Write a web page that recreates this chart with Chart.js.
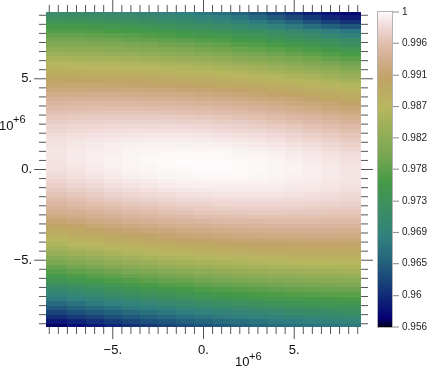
<!DOCTYPE html>
<html>
<head>
<meta charset="utf-8">
<script src="https://cdn.jsdelivr.net/npm/chart.js@4/dist/chart.umd.min.js"></script>
<style>
  html, body { margin: 0; padding: 0; background: #ffffff; }
  #wrap { width: 427px; height: 368px; }
</style>
</head>
<body>
<div id="wrap"><canvas id="c" width="427" height="368"></canvas></div>
<script>
// ---------- data (units of 10^6 on both axes) ----------
const xCenters = [-8, -7, -6, -5, -4, -3, -2, -1, 0, 1, 2, 3, 4, 5, 6, 7, 8];
const yCenters = [
  8.625, 8.375, 8.125, 7.875, 7.625, 7.375, 7.125, 6.875, 6.625, 6.375,
  6.125, 5.875, 5.625, 5.375, 5.125, 4.875, 4.625, 4.375, 4.125, 3.875,
  3.625, 3.375, 3.125, 2.875, 2.625, 2.375, 2.125, 1.875, 1.625, 1.375,
  1.125, 0.875, 0.625, 0.375, 0.125, -0.125, -0.375, -0.625, -0.875, -1.125,
  -1.375, -1.625, -1.875, -2.125, -2.375, -2.625, -2.875, -3.125, -3.375, -3.625,
  -3.875, -4.125, -4.375, -4.625, -4.875, -5.125, -5.375, -5.625, -5.875, -6.125,
  -6.375, -6.625, -6.875, -7.125, -7.375, -7.625, -7.875, -8.125, -8.375, -8.625
];
const zRows = [
  [0.9714, 0.9711, 0.9707, 0.9703, 0.9699, 0.9694, 0.9688, 0.9682, 0.9673, 0.9664, 0.9652, 0.9637, 0.9621, 0.9606, 0.9593, 0.9583, 0.9575],
  [0.9729, 0.9726, 0.9723, 0.9719, 0.9714, 0.9710, 0.9704, 0.9699, 0.9690, 0.9682, 0.9670, 0.9656, 0.9641, 0.9627, 0.9612, 0.9599, 0.9589],
  [0.9744, 0.9741, 0.9738, 0.9734, 0.9730, 0.9725, 0.9720, 0.9715, 0.9707, 0.9699, 0.9689, 0.9677, 0.9664, 0.9650, 0.9634, 0.9620, 0.9607],
  [0.9758, 0.9756, 0.9753, 0.9749, 0.9745, 0.9741, 0.9736, 0.9731, 0.9724, 0.9717, 0.9708, 0.9699, 0.9688, 0.9676, 0.9662, 0.9649, 0.9637],
  [0.9772, 0.9770, 0.9767, 0.9764, 0.9760, 0.9756, 0.9751, 0.9746, 0.9741, 0.9735, 0.9728, 0.9721, 0.9714, 0.9704, 0.9694, 0.9683, 0.9672],
  [0.9786, 0.9784, 0.9781, 0.9778, 0.9775, 0.9771, 0.9767, 0.9762, 0.9756, 0.9751, 0.9744, 0.9738, 0.9730, 0.9723, 0.9712, 0.9701, 0.9690],
  [0.9799, 0.9798, 0.9795, 0.9793, 0.9789, 0.9786, 0.9781, 0.9777, 0.9772, 0.9766, 0.9760, 0.9753, 0.9746, 0.9739, 0.9731, 0.9723, 0.9714],
  [0.9813, 0.9811, 0.9809, 0.9806, 0.9803, 0.9800, 0.9796, 0.9792, 0.9787, 0.9781, 0.9775, 0.9769, 0.9762, 0.9755, 0.9747, 0.9739, 0.9731],
  [0.9825, 0.9824, 0.9822, 0.9820, 0.9817, 0.9814, 0.9810, 0.9806, 0.9801, 0.9796, 0.9790, 0.9784, 0.9778, 0.9771, 0.9763, 0.9755, 0.9747],
  [0.9838, 0.9837, 0.9835, 0.9833, 0.9830, 0.9827, 0.9824, 0.9820, 0.9815, 0.9810, 0.9805, 0.9799, 0.9793, 0.9786, 0.9779, 0.9771, 0.9763],
  [0.9850, 0.9849, 0.9848, 0.9846, 0.9844, 0.9841, 0.9837, 0.9833, 0.9829, 0.9825, 0.9819, 0.9814, 0.9807, 0.9801, 0.9794, 0.9786, 0.9778],
  [0.9862, 0.9861, 0.9860, 0.9858, 0.9856, 0.9853, 0.9850, 0.9847, 0.9843, 0.9838, 0.9833, 0.9828, 0.9822, 0.9815, 0.9808, 0.9801, 0.9793],
  [0.9873, 0.9872, 0.9871, 0.9870, 0.9868, 0.9866, 0.9863, 0.9859, 0.9856, 0.9851, 0.9847, 0.9841, 0.9836, 0.9829, 0.9823, 0.9816, 0.9808],
  [0.9884, 0.9884, 0.9883, 0.9881, 0.9880, 0.9878, 0.9875, 0.9872, 0.9868, 0.9864, 0.9859, 0.9854, 0.9849, 0.9843, 0.9837, 0.9830, 0.9822],
  [0.9894, 0.9894, 0.9893, 0.9893, 0.9891, 0.9889, 0.9886, 0.9883, 0.9880, 0.9876, 0.9872, 0.9867, 0.9862, 0.9856, 0.9850, 0.9843, 0.9836],
  [0.9904, 0.9904, 0.9904, 0.9903, 0.9902, 0.9900, 0.9898, 0.9895, 0.9892, 0.9888, 0.9884, 0.9879, 0.9874, 0.9869, 0.9863, 0.9856, 0.9849],
  [0.9913, 0.9914, 0.9914, 0.9913, 0.9912, 0.9910, 0.9908, 0.9906, 0.9903, 0.9899, 0.9895, 0.9891, 0.9886, 0.9881, 0.9875, 0.9868, 0.9862],
  [0.9923, 0.9923, 0.9923, 0.9922, 0.9922, 0.9920, 0.9918, 0.9916, 0.9913, 0.9910, 0.9906, 0.9902, 0.9897, 0.9892, 0.9887, 0.9881, 0.9874],
  [0.9931, 0.9931, 0.9932, 0.9932, 0.9931, 0.9930, 0.9928, 0.9926, 0.9923, 0.9920, 0.9917, 0.9913, 0.9908, 0.9903, 0.9898, 0.9892, 0.9886],
  [0.9939, 0.9940, 0.9940, 0.9940, 0.9939, 0.9938, 0.9937, 0.9935, 0.9933, 0.9930, 0.9926, 0.9923, 0.9918, 0.9914, 0.9909, 0.9903, 0.9897],
  [0.9946, 0.9947, 0.9948, 0.9948, 0.9948, 0.9947, 0.9945, 0.9944, 0.9941, 0.9939, 0.9936, 0.9932, 0.9928, 0.9923, 0.9918, 0.9913, 0.9907],
  [0.9953, 0.9954, 0.9955, 0.9955, 0.9955, 0.9954, 0.9953, 0.9952, 0.9950, 0.9947, 0.9944, 0.9941, 0.9937, 0.9933, 0.9928, 0.9923, 0.9917],
  [0.9959, 0.9960, 0.9961, 0.9962, 0.9962, 0.9962, 0.9960, 0.9959, 0.9957, 0.9955, 0.9953, 0.9949, 0.9946, 0.9941, 0.9937, 0.9931, 0.9926],
  [0.9964, 0.9966, 0.9967, 0.9968, 0.9968, 0.9968, 0.9967, 0.9966, 0.9965, 0.9962, 0.9960, 0.9957, 0.9953, 0.9949, 0.9945, 0.9940, 0.9935],
  [0.9969, 0.9971, 0.9972, 0.9974, 0.9974, 0.9974, 0.9973, 0.9972, 0.9971, 0.9969, 0.9967, 0.9964, 0.9961, 0.9957, 0.9952, 0.9948, 0.9942],
  [0.9974, 0.9976, 0.9977, 0.9978, 0.9979, 0.9979, 0.9979, 0.9978, 0.9977, 0.9975, 0.9973, 0.9970, 0.9967, 0.9964, 0.9959, 0.9955, 0.9950],
  [0.9977, 0.9980, 0.9981, 0.9983, 0.9983, 0.9984, 0.9983, 0.9983, 0.9982, 0.9980, 0.9978, 0.9976, 0.9973, 0.9970, 0.9965, 0.9961, 0.9956],
  [0.9981, 0.9983, 0.9985, 0.9986, 0.9987, 0.9988, 0.9988, 0.9988, 0.9987, 0.9985, 0.9983, 0.9981, 0.9978, 0.9975, 0.9971, 0.9967, 0.9962],
  [0.9983, 0.9986, 0.9988, 0.9989, 0.9991, 0.9991, 0.9991, 0.9991, 0.9991, 0.9989, 0.9988, 0.9986, 0.9983, 0.9980, 0.9976, 0.9972, 0.9968],
  [0.9985, 0.9988, 0.9990, 0.9992, 0.9993, 0.9994, 0.9994, 0.9994, 0.9994, 0.9993, 0.9991, 0.9989, 0.9987, 0.9984, 0.9981, 0.9977, 0.9972],
  [0.9986, 0.9989, 0.9991, 0.9993, 0.9995, 0.9996, 0.9996, 0.9997, 0.9996, 0.9996, 0.9994, 0.9992, 0.9990, 0.9988, 0.9984, 0.9981, 0.9977],
  [0.9986, 0.9990, 0.9992, 0.9994, 0.9996, 0.9997, 0.9998, 0.9998, 0.9998, 0.9998, 0.9996, 0.9995, 0.9993, 0.9990, 0.9987, 0.9984, 0.9980],
  [0.9986, 0.9990, 0.9992, 0.9995, 0.9997, 0.9998, 0.9999, 0.9999, 0.9999, 0.9999, 0.9998, 0.9997, 0.9995, 0.9992, 0.9990, 0.9986, 0.9983],
  [0.9985, 0.9989, 0.9992, 0.9994, 0.9996, 0.9998, 0.9999, 1.0000, 1.0000, 1.0000, 0.9999, 0.9998, 0.9996, 0.9994, 0.9991, 0.9988, 0.9984],
  [0.9984, 0.9987, 0.9991, 0.9993, 0.9996, 0.9997, 0.9999, 0.9999, 1.0000, 1.0000, 0.9999, 0.9998, 0.9997, 0.9995, 0.9992, 0.9989, 0.9986],
  [0.9982, 0.9985, 0.9989, 0.9992, 0.9994, 0.9996, 0.9997, 0.9999, 0.9999, 0.9999, 0.9999, 0.9998, 0.9996, 0.9995, 0.9992, 0.9990, 0.9986],
  [0.9979, 0.9983, 0.9986, 0.9989, 0.9992, 0.9994, 0.9996, 0.9997, 0.9998, 0.9998, 0.9998, 0.9997, 0.9996, 0.9994, 0.9992, 0.9989, 0.9986],
  [0.9975, 0.9979, 0.9983, 0.9986, 0.9989, 0.9991, 0.9993, 0.9995, 0.9995, 0.9996, 0.9996, 0.9995, 0.9994, 0.9993, 0.9991, 0.9988, 0.9986],
  [0.9971, 0.9975, 0.9979, 0.9983, 0.9985, 0.9988, 0.9990, 0.9992, 0.9993, 0.9993, 0.9993, 0.9993, 0.9992, 0.9991, 0.9989, 0.9987, 0.9984],
  [0.9966, 0.9970, 0.9974, 0.9978, 0.9981, 0.9984, 0.9986, 0.9988, 0.9989, 0.9990, 0.9990, 0.9990, 0.9989, 0.9988, 0.9987, 0.9985, 0.9982],
  [0.9960, 0.9965, 0.9969, 0.9973, 0.9976, 0.9979, 0.9981, 0.9983, 0.9985, 0.9986, 0.9986, 0.9986, 0.9986, 0.9985, 0.9983, 0.9982, 0.9979],
  [0.9954, 0.9959, 0.9963, 0.9967, 0.9971, 0.9974, 0.9976, 0.9979, 0.9980, 0.9981, 0.9982, 0.9982, 0.9982, 0.9981, 0.9980, 0.9978, 0.9976],
  [0.9947, 0.9952, 0.9957, 0.9961, 0.9965, 0.9968, 0.9970, 0.9973, 0.9974, 0.9976, 0.9977, 0.9977, 0.9977, 0.9976, 0.9975, 0.9974, 0.9972],
  [0.9940, 0.9945, 0.9950, 0.9954, 0.9958, 0.9961, 0.9964, 0.9967, 0.9969, 0.9970, 0.9971, 0.9971, 0.9971, 0.9971, 0.9970, 0.9969, 0.9967],
  [0.9932, 0.9937, 0.9942, 0.9947, 0.9951, 0.9954, 0.9957, 0.9960, 0.9962, 0.9963, 0.9965, 0.9966, 0.9966, 0.9965, 0.9965, 0.9963, 0.9962],
  [0.9923, 0.9928, 0.9933, 0.9938, 0.9942, 0.9946, 0.9949, 0.9952, 0.9955, 0.9956, 0.9958, 0.9959, 0.9959, 0.9959, 0.9959, 0.9958, 0.9956],
  [0.9913, 0.9919, 0.9925, 0.9930, 0.9934, 0.9938, 0.9941, 0.9944, 0.9946, 0.9949, 0.9950, 0.9951, 0.9952, 0.9952, 0.9952, 0.9951, 0.9950],
  [0.9904, 0.9909, 0.9915, 0.9920, 0.9924, 0.9929, 0.9932, 0.9936, 0.9938, 0.9940, 0.9942, 0.9943, 0.9944, 0.9944, 0.9944, 0.9944, 0.9943],
  [0.9893, 0.9899, 0.9905, 0.9910, 0.9915, 0.9919, 0.9923, 0.9926, 0.9929, 0.9931, 0.9933, 0.9935, 0.9936, 0.9936, 0.9936, 0.9936, 0.9935],
  [0.9882, 0.9888, 0.9894, 0.9899, 0.9904, 0.9909, 0.9913, 0.9916, 0.9919, 0.9922, 0.9924, 0.9926, 0.9927, 0.9928, 0.9928, 0.9928, 0.9927],
  [0.9870, 0.9877, 0.9883, 0.9888, 0.9893, 0.9898, 0.9902, 0.9906, 0.9909, 0.9912, 0.9914, 0.9916, 0.9917, 0.9918, 0.9919, 0.9919, 0.9918],
  [0.9858, 0.9865, 0.9871, 0.9876, 0.9882, 0.9887, 0.9891, 0.9895, 0.9898, 0.9901, 0.9904, 0.9906, 0.9907, 0.9909, 0.9909, 0.9909, 0.9909],
  [0.9845, 0.9852, 0.9858, 0.9864, 0.9870, 0.9875, 0.9879, 0.9883, 0.9887, 0.9890, 0.9893, 0.9895, 0.9897, 0.9898, 0.9899, 0.9899, 0.9899],
  [0.9832, 0.9839, 0.9845, 0.9851, 0.9857, 0.9862, 0.9867, 0.9872, 0.9875, 0.9879, 0.9882, 0.9884, 0.9886, 0.9888, 0.9889, 0.9889, 0.9889],
  [0.9818, 0.9825, 0.9832, 0.9838, 0.9844, 0.9850, 0.9855, 0.9859, 0.9863, 0.9867, 0.9870, 0.9872, 0.9875, 0.9876, 0.9877, 0.9878, 0.9879],
  [0.9804, 0.9811, 0.9818, 0.9825, 0.9831, 0.9836, 0.9842, 0.9846, 0.9850, 0.9854, 0.9857, 0.9860, 0.9863, 0.9865, 0.9866, 0.9867, 0.9867],
  [0.9789, 0.9796, 0.9804, 0.9811, 0.9817, 0.9823, 0.9828, 0.9833, 0.9837, 0.9841, 0.9845, 0.9848, 0.9850, 0.9852, 0.9854, 0.9855, 0.9856],
  [0.9774, 0.9782, 0.9789, 0.9796, 0.9802, 0.9808, 0.9814, 0.9819, 0.9824, 0.9828, 0.9831, 0.9835, 0.9838, 0.9840, 0.9842, 0.9843, 0.9844],
  [0.9758, 0.9766, 0.9774, 0.9781, 0.9788, 0.9794, 0.9799, 0.9805, 0.9810, 0.9814, 0.9818, 0.9821, 0.9824, 0.9827, 0.9829, 0.9830, 0.9832],
  [0.9742, 0.9751, 0.9758, 0.9766, 0.9772, 0.9779, 0.9785, 0.9790, 0.9795, 0.9800, 0.9804, 0.9808, 0.9811, 0.9814, 0.9816, 0.9817, 0.9819],
  [0.9726, 0.9734, 0.9742, 0.9750, 0.9757, 0.9764, 0.9770, 0.9775, 0.9781, 0.9785, 0.9790, 0.9794, 0.9797, 0.9800, 0.9802, 0.9804, 0.9806],
  [0.9709, 0.9718, 0.9726, 0.9734, 0.9741, 0.9748, 0.9754, 0.9760, 0.9766, 0.9770, 0.9775, 0.9779, 0.9783, 0.9786, 0.9788, 0.9791, 0.9792],
  [0.9692, 0.9701, 0.9709, 0.9717, 0.9725, 0.9732, 0.9738, 0.9744, 0.9750, 0.9755, 0.9760, 0.9764, 0.9768, 0.9771, 0.9774, 0.9777, 0.9779],
  [0.9675, 0.9684, 0.9693, 0.9701, 0.9708, 0.9716, 0.9722, 0.9729, 0.9735, 0.9740, 0.9745, 0.9749, 0.9753, 0.9757, 0.9760, 0.9762, 0.9764],
  [0.9658, 0.9667, 0.9675, 0.9684, 0.9692, 0.9699, 0.9706, 0.9713, 0.9719, 0.9724, 0.9729, 0.9734, 0.9738, 0.9742, 0.9745, 0.9748, 0.9750],
  [0.9640, 0.9649, 0.9658, 0.9667, 0.9675, 0.9682, 0.9689, 0.9696, 0.9702, 0.9708, 0.9713, 0.9718, 0.9723, 0.9727, 0.9730, 0.9733, 0.9736],
  [0.9622, 0.9632, 0.9641, 0.9649, 0.9658, 0.9665, 0.9673, 0.9679, 0.9686, 0.9692, 0.9697, 0.9702, 0.9707, 0.9711, 0.9715, 0.9718, 0.9721],
  [0.9604, 0.9614, 0.9623, 0.9632, 0.9640, 0.9648, 0.9656, 0.9663, 0.9669, 0.9676, 0.9681, 0.9686, 0.9691, 0.9696, 0.9699, 0.9703, 0.9706],
  [0.9586, 0.9596, 0.9605, 0.9614, 0.9623, 0.9631, 0.9638, 0.9646, 0.9653, 0.9659, 0.9665, 0.9670, 0.9675, 0.9680, 0.9684, 0.9688, 0.9691],
  [0.9567, 0.9577, 0.9587, 0.9596, 0.9605, 0.9613, 0.9621, 0.9629, 0.9636, 0.9642, 0.9648, 0.9654, 0.9659, 0.9664, 0.9668, 0.9672, 0.9675]
];

// axis ranges and ticks (units of 10^6)
const axisMin = -8.68;
const axisMax = 8.68;
const labeledTicks = [-5, 0, 5];
const labeledTickText = ["\u22125.", "0.", "5."];
const minorTicks = [-8.5, -8, -7.5, -7, -6.5, -6, -5.5, -5, -4.5, -4, -3.5, -3, -2.5, -2, -1.5, -1, -0.5,
  0, 0.5, 1, 1.5, 2, 2.5, 3, 3.5, 4, 4.5, 5, 5.5, 6, 6.5, 7, 7.5, 8, 8.5];

// colour bar
const valueMin = 0.9557;
const valueMax = 1.0;
const cbTickValues = [0.9557, 0.9601, 0.9646, 0.9690, 0.9734, 0.9779, 0.9823, 0.9867, 0.9911, 0.9956, 1.0];
const cbTickLabels = ["0.956", "0.96", "0.965", "0.969", "0.973", "0.978", "0.982", "0.987", "0.991", "0.996", "1"];

// ---------- style: earth-like colour map ----------
const cmap = {
  r: [[0, 0], [0.2824, 0.1882], [0.4588, 0.2714], [0.5490, 0.4719], [0.6980, 0.7176], [0.7882, 0.7553], [1, 0.9922]],
  g: [[0, 0], [0.0275, 0], [0.1098, 0.1893], [0.1647, 0.3035], [0.2078, 0.3841], [0.2824, 0.5020], [0.5216, 0.6397],
      [0.6980, 0.7171], [0.7882, 0.6392], [0.8157, 0.6549], [0.8667, 0.6991], [0.8980, 0.7430], [0.9412, 0.8275],
      [0.9647, 0.8816], [0.9961, 0.9733], [1, 0.9843]],
  b: [[0, 0], [0.0039, 0.1684], [0.0078, 0.2212], [0.0275, 0.4329], [0.0314, 0.4549], [0.2824, 0.5004], [0.4667, 0.2748],
      [0.5451, 0.3205], [0.7843, 0.3961], [0.8941, 0.6651], [1, 0.9843]]
};
function chan(list, t) {
  for (let i = 1; i < list.length; i++) {
    if (t <= list[i][0]) {
      const a = list[i - 1], b = list[i];
      const f = (t - a[0]) / (b[0] - a[0]);
      return a[1] + f * (b[1] - a[1]);
    }
  }
  return list[list.length - 1][1];
}
function colorFor(v) {
  let t = (v - valueMin) / (valueMax - valueMin);
  t = Math.max(0, Math.min(1, t));
  const r = Math.round(255 * chan(cmap.r, t));
  const g = Math.round(255 * chan(cmap.g, t));
  const b = Math.round(255 * chan(cmap.b, t));
  return `rgb(${r},${g},${b})`;
}

// ---------- build cells (edges halfway between centres, outer edges at the axis limits) ----------
function edgesOf(centers, lo, hi) {
  const e = [];
  for (let i = 0; i <= centers.length; i++) {
    if (i === 0) e.push(lo);
    else if (i === centers.length) e.push(hi);
    else e.push((centers[i - 1] + centers[i]) / 2);
  }
  return e;
}
const xEdges = edgesOf(xCenters, axisMin, axisMax);
const ySorted = yCenters.slice().reverse();           // ascending
const yEdgesAsc = edgesOf(ySorted, axisMin, axisMax);
const cells = [];
yCenters.forEach((yc, i) => {
  const k = yCenters.length - 1 - i;                    // index in ascending order
  xCenters.forEach((xc, j) => {
    cells.push({ x: xc, y: yc, v: zRows[i][j],
      x0: xEdges[j], x1: xEdges[j + 1], y0: yEdgesAsc[k], y1: yEdgesAsc[k + 1] });
  });
});

const FONT = "'Liberation Sans', Arial, Helvetica, sans-serif";
const TICK_COLOR = '#555555';

const heatmapPlugin = {
  id: 'heatmap',
  beforeDatasetsDraw(chart) {
    const { ctx, chartArea: a, scales } = chart;
    const xs = scales.x, ys = scales.y;
    ctx.save();
    ctx.beginPath();
    ctx.rect(a.left, a.top, a.right - a.left, a.bottom - a.top);
    ctx.clip();
    for (const p of chart.data.datasets[0].data) {
      const px0 = Math.round(xs.getPixelForValue(p.x0));
      const px1 = Math.round(xs.getPixelForValue(p.x1));
      const py0 = Math.round(ys.getPixelForValue(p.y1));
      const py1 = Math.round(ys.getPixelForValue(p.y0));
      ctx.fillStyle = colorFor(p.v);
      ctx.fillRect(px0, py0, px1 - px0, py1 - py0);
    }
    ctx.restore();
  }
};

const framePlugin = {
  id: 'frameTicks',
  afterDraw(chart) {
    const { ctx, chartArea: a, scales } = chart;
    const xs = scales.x, ys = scales.y, cb = scales.cb;
    ctx.save();
    ctx.strokeStyle = TICK_COLOR;
    ctx.lineWidth = 1;
    ctx.beginPath();
    for (const v of minorTicks) {
      const len = labeledTicks.includes(v) ? 12 : 7;
      const px = xs.getPixelForValue(v);
      ctx.moveTo(px, a.bottom); ctx.lineTo(px, a.bottom + len);
      ctx.moveTo(px, a.top); ctx.lineTo(px, a.top - len);
      const py = ys.getPixelForValue(v);
      ctx.moveTo(a.left, py); ctx.lineTo(a.left - len, py);
      ctx.moveTo(a.right, py); ctx.lineTo(a.right + len, py);
    }
    ctx.stroke();

    // colour bar
    const barL = cb.left + 16, barR = barL + 16;
    const top = Math.round(cb.getPixelForValue(valueMax));
    const bot = Math.round(cb.getPixelForValue(valueMin));
    for (let py = top; py < bot; py++) {
      ctx.fillStyle = colorFor(cb.getValueForPixel(py + 0.5));
      ctx.fillRect(barL, py, barR - barL, 1);
    }
    ctx.strokeStyle = '#b4b4b4';
    ctx.strokeRect(barL + 0.5, top - 0.5, barR - barL - 1, bot - top + 1);
    ctx.strokeStyle = '#8a8a8a';
    ctx.beginPath();
    for (const v of cbTickValues) {
      const py = cb.getPixelForValue(v);
      ctx.moveTo(barR, py); ctx.lineTo(barR + 6, py);
    }
    ctx.stroke();

    // 10^+6 exponent labels
    ctx.fillStyle = '#111111';
    ctx.textBaseline = 'alphabetic';
    ctx.textAlign = 'left';
    ctx.font = '13px ' + FONT;
    ctx.fillText('10', a.left - 47, 130);
    ctx.fillText('10', 235, 366);
    ctx.font = '11px ' + FONT;
    ctx.fillText('+6', a.left - 33, 123);
    ctx.fillText('+6', 249, 360);
    ctx.restore();
  }
};

function noPad(s) { s.paddingTop = 0; s.paddingBottom = 0; s.paddingLeft = 0; s.paddingRight = 0; }

new Chart(document.getElementById('c'), {
  type: 'scatter',
  data: { datasets: [{ data: cells, pointRadius: 0, pointHoverRadius: 0, showLine: false }] },
  options: {
    responsive: false,
    animation: false,
    devicePixelRatio: 1,
    events: [],
    layout: { padding: { top: 12, left: 0, right: 0, bottom: 0 } },
    plugins: { legend: { display: false }, tooltip: { enabled: false } },
    scales: {
      x: {
        type: 'linear', position: 'bottom', min: axisMin, max: axisMax,
        grid: { display: false, drawTicks: false }, border: { display: false },
        afterBuildTicks: s => { s.ticks = labeledTicks.map(v => ({ value: v })); },
        afterFit: s => { s.height = 41; noPad(s); },
        ticks: {
          autoSkip: false, maxRotation: 0, padding: 16, color: '#111111',
          font: { family: FONT, size: 13 },
          callback: (v, i) => labeledTickText[i]
        }
      },
      y: {
        type: 'linear', position: 'left', min: axisMin, max: axisMax,
        grid: { display: false, drawTicks: false }, border: { display: false },
        afterBuildTicks: s => { s.ticks = labeledTicks.map(v => ({ value: v })); },
        afterFit: s => { s.width = 46; noPad(s); },
        ticks: {
          autoSkip: false, padding: 14, color: '#111111',
          font: { family: FONT, size: 13 },
          callback: (v, i) => labeledTickText[i]
        }
      },
      cb: {
        type: 'linear', axis: 'y', position: 'right', min: valueMin, max: valueMax,
        grid: { display: false, drawTicks: false }, border: { display: false },
        afterBuildTicks: s => { s.ticks = cbTickValues.map(v => ({ value: v })); },
        afterFit: s => { s.width = 66; noPad(s); },
        ticks: {
          autoSkip: false, padding: 41, color: '#222222',
          font: { family: FONT, size: 10 },
          callback: (v, i) => cbTickLabels[i]
        }
      }
    }
  },
  plugins: [heatmapPlugin, framePlugin]
});
</script>
</body>
</html>
